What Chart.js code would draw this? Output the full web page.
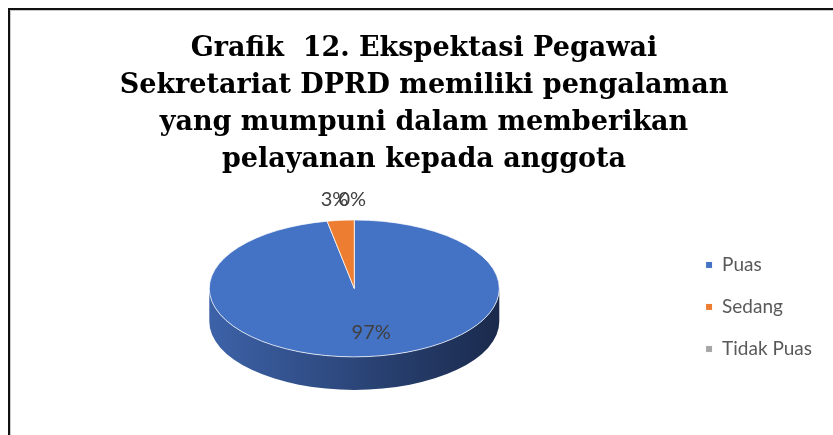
<!DOCTYPE html>
<html>
<head>
<meta charset="utf-8">
<script src="https://cdn.jsdelivr.net/npm/chart.js@4.4.1/dist/chart.umd.min.js"></script>
<style>
	html, body {
		margin: 0;
		padding: 0;
		background: #fff;
	}
	#frame {
		position: absolute;
		left: 0;
		top: 0;
		width: 833px;
		height: 435px;
		overflow: hidden;
	}
	#border {
		position: absolute;
		left: 8px;
		top: 8px;
		width: 840px;
		height: 440px;
		border-left: 2px solid #111;
		border-top: 2px solid #111;
		box-shadow: inset 1px 1px 0 #c9c9c9;
	}
	canvas {
		position: absolute;
		left: 0;
		top: 0;
	}
</style>
</head>
<body>
<div id="frame">
	<div id="border"></div>
	<canvas id="pie-chart" width="833" height="435"></canvas>
</div>
<script>
// values
const categories = ['Puas', 'Sedang', 'Tidak Puas'];
const percentages = [97, 3, 0];
const title_lines = [
	'Grafik  12. Ekspektasi Pegawai',
	'Sekretariat DPRD memiliki pengalaman',
	'yang mumpuni dalam memberikan',
	'pelayanan kepada anggota',
];

const slice_colors = ['#4472c4', '#ed7d31', '#a5a5a5'];
const side_colors = [
	['#3d62a8', '#1a2a4c'],
	['#c8652a', '#8a4318'],
	['#8c8c8c', '#5e5e5e'],
];

// how flat the pie looks and how thick its side wall is
const tilt_ratio = 0.472;
const wall_depth = 33;

// the pie is drawn flat by Chart.js, then squashed into an ellipse
const tilted_pie_plugin = {
	id: 'tiltedPie',
	beforeDatasetsDraw(chart) {
		const ctx = chart.ctx;
		const meta = chart.getDatasetMeta(0);
		const first = meta.data[0];
		const cx = first.x;
		const cy = first.y;

		// side wall, only the front half is visible
		meta.data.forEach((arc, i) => {
			const rx = arc.outerRadius;
			const ry = rx * tilt_ratio;
			for (const base of [0, 2 * Math.PI]) {
				const s = Math.max(arc.startAngle, base);
				const e = Math.min(arc.endAngle, base + Math.PI);
				if (e <= s) {
					continue;
				}
				const grad = ctx.createLinearGradient(cx - rx, 0, cx + rx, 0);
				grad.addColorStop(0, side_colors[i][0]);
				grad.addColorStop(1, side_colors[i][1]);
				ctx.save();
				ctx.fillStyle = grad;
				ctx.beginPath();
				ctx.ellipse(cx, cy, rx, ry, 0, s, e, false);
				ctx.ellipse(cx, cy + wall_depth, rx, ry, 0, e, s, true);
				ctx.closePath();
				ctx.fill();
				ctx.restore();
			}
		});

		ctx.save();
		ctx.translate(cx, cy);
		ctx.scale(1, tilt_ratio);
		ctx.translate(-cx, -cy);
	},
	afterDatasetsDraw(chart) {
		const ctx = chart.ctx;
		ctx.restore();

		const meta = chart.getDatasetMeta(0);
		const total = percentages.reduce((a, b) => a + b, 0);
		ctx.save();
		ctx.font = '20px Lato';
		ctx.fillStyle = '#404040';
		ctx.textAlign = 'center';
		ctx.textBaseline = 'middle';
		meta.data.forEach((arc, i) => {
			const mid = (arc.startAngle + arc.endAngle) / 2;
			const share = percentages[i] / total;
			const r = share > 0.1 ? arc.outerRadius * 0.65 : arc.outerRadius * 1.3;
			const lx = arc.x + Math.cos(mid) * r + (share > 0.1 ? 8 : -2);
			const ly = arc.y + Math.sin(mid) * r * tilt_ratio;
			ctx.fillText(percentages[i] + '%', lx, ly);
		});
		ctx.restore();
	},
};

const pie_chart_data = {
	labels: categories,
	datasets: [{
		data: percentages,
		backgroundColor: slice_colors,
		borderColor: '#ffffff',
		borderWidth: 1,
		radius: 145,
		clip: false,
	}],
};

const pie_chart_options = {
	responsive: false,
	animation: false,
	layout: {
		padding: {
			left: 26,
			right: 11,
			top: 0,
			bottom: 36,
		},
	},
	plugins: {
		tooltip: { enabled: false },
		title: {
			display: true,
			text: title_lines,
			color: '#000',
			font: {
				family: '"DejaVu Serif"',
				weight: 'bold',
				size: 27,
				lineHeight: 1.36,
			},
			padding: {
				top: 31,
				bottom: 0,
			},
		},
		legend: {
			position: 'right',
			fullSize: false,
			title: {
				display: true,
				text: '',
				font: { size: 12 },
				padding: { top: 22.6, bottom: 0 },
			},
			labels: {
				color: '#595959',
				font: {
					family: 'Lato',
					size: 19,
				},
				boxWidth: 7,
				boxHeight: 7,
				padding: 23,
			},
		},
	},
};

var pie_chart_ctx = document.getElementById('pie-chart').getContext('2d');
var pie_chart = new Chart(pie_chart_ctx, {
	type: 'pie',
	data: pie_chart_data,
	options: pie_chart_options,
	plugins: [tilted_pie_plugin],
});
</script>
</body>
</html>
